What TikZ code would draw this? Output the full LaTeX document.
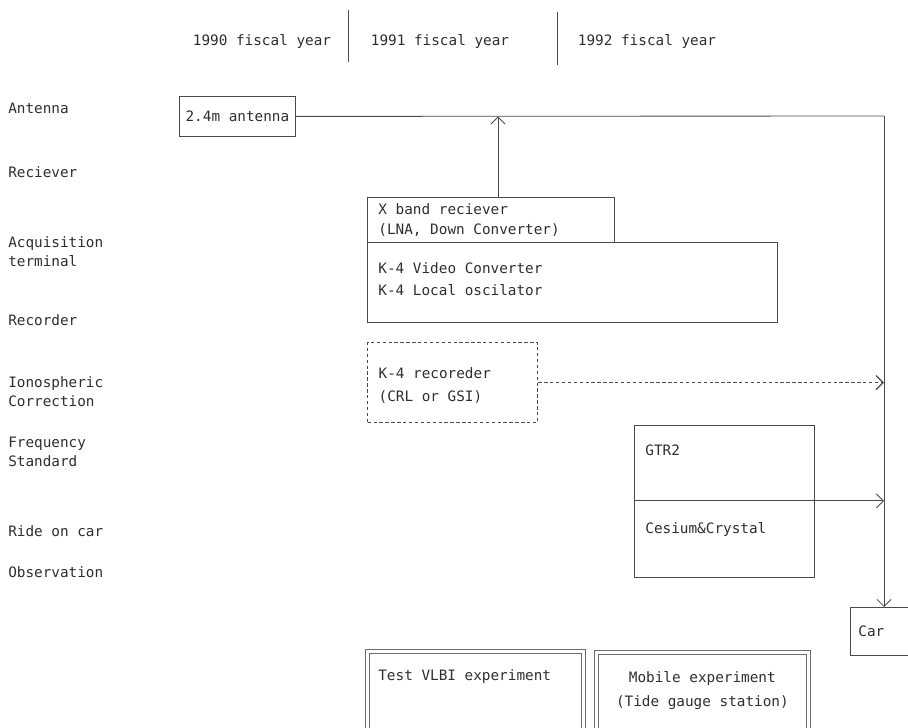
\documentclass[tikz,border=0pt]{standalone}
\usepackage{fontspec}
\setmainfont{DejaVu Sans Mono}[WordSpace={1,0,0}]
\usetikzlibrary{arrows.meta,positioning}
\definecolor{ink}{HTML}{2E2E2E}
\definecolor{ln}{HTML}{4A4A4A}
\newdimen\pxu \pxu=0.025cm
\tikzset{
  box/.style={draw=ln,line width=0.6pt,anchor=north west,align=flush left,inner xsep=11\pxu,inner ysep=0pt,text=ink},
  dbox/.style={box,dash pattern=on 2.4pt off 1.8pt,line width=0.9pt},
  obox/.style={box,draw=ln!80,double=white,double distance=2.2pt,line width=0.5pt},
  lab/.style={anchor=west,align=left,text=ink,inner sep=0pt},
  yr/.style={text=ink,inner sep=0pt},
  ar/.style={-{Straight Barb[length=5pt,width=10pt]},draw=ln,line width=0.6pt},
  dar/.style={ar,dash pattern=on 2.4pt off 1.8pt,line width=0.9pt},
}
\begin{document}
\begin{tikzpicture}[x=0.025cm,y=-0.025cm,font=\fontsize{10.2}{13.5}\selectfont]
  \useasboundingbox (0,0) rectangle (908,728);
  \clip (0,0) rectangle (908,728);
  % fiscal years
  \node[yr] (y90) at (262,42) {1990 fiscal year};
  \node[yr] (y91) at (440,42) {1991 fiscal year};
  \node[yr] (y92) at (647,42) {1992 fiscal year};
  \coordinate (d1) at (348,10); \coordinate (d1b) at (348,62);
  \coordinate (d2) at (557,12); \coordinate (d2b) at (557,65);
  \draw[ln,line width=0.6pt] (d1) -- (d1b) (d2) -- (d2b);
  % row labels
  \node[lab] (lant) at (8,108) {Antenna};
  \node[lab] (lrx)  at (8,172) {Reciever};
  \node[lab] (lacq) at (8,252) {Acquisition\\terminal};
  \node[lab] (lrec) at (8,320) {Recorder};
  \node[lab] (lion) at (8,392) {Ionospheric\\Correction};
  \node[lab] (lfrq) at (8,452) {Frequency\\Standard};
  \node[lab] (lcar) at (8,531) {Ride on car};
  \node[lab] (lobs) at (8,572) {Observation};
  % equipment
  \node[box,inner xsep=4\pxu,minimum width=116\pxu,minimum height=40\pxu] (ant) at (179,96) {2.4m antenna};
  \node[box,text width=225\pxu,minimum height=45\pxu,font=\fontsize{10.2}{14.2}\selectfont] (rx) at (367,197) {X band reciever\\(LNA, Down Converter)};
  \node[box,text width=388\pxu,minimum height=80\pxu,text depth=28\pxu,font=\fontsize{10.2}{15.5}\selectfont] (acq) at (367,242) {K-4 Video Converter\\K-4 Local oscilator};
  \node[dbox,text width=148\pxu,minimum height=80\pxu,text depth=20\pxu,font=\fontsize{10.2}{17}\selectfont] (rec) at (367,342) {K-4 recoreder\\(CRL or GSI)};
  \node[box,text width=158\pxu,minimum height=75\pxu,text depth=26\pxu] (gtr) at (634,425) {GTR2};
  \node[box,text width=158\pxu,minimum height=77\pxu,text depth=22\pxu] (cs) at (634,500) {Cesium\&Crystal};
  \node[box,inner xsep=8\pxu,text width=64\pxu,minimum height=48\pxu] (car) at (850,607) {Car};
  \node[obox,text width=194\pxu,minimum height=94\pxu,text depth=46\pxu] (tst) at (367,651) {Test VLBI experiment};
  \node[obox,inner xsep=4\pxu,text width=204\pxu,minimum height=93\pxu,align=flush center,text depth=44\pxu,font=\fontsize{10.2}{17}\selectfont] (mob) at (596,652) {Mobile experiment\\(Tide gauge station)};
  % signal path
  \coordinate (bus) at (884,116);
  \draw[ln,line width=0.6pt] (ant.east) -- (bus);
  \draw[ar] (bus) -- (bus |- car.north);
  \draw[ar] (rx.north -| 498,0) -- (ant.east -| 498,0);
  \draw[dar] (rec.east) -- (rec.east -| bus);
  \draw[ar] (gtr.south west) -- (gtr.south west -| bus);
\end{tikzpicture}
\end{document}
